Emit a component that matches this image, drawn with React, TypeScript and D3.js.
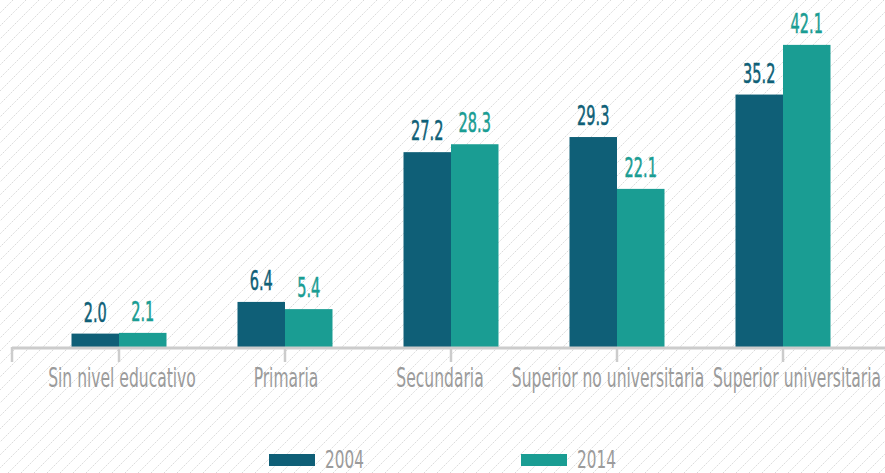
import React from "react";
import * as d3 from "d3";

const categories = ["Sin nivel educativo", "Primaria", "Secundaria", "Superior no universitaria", "Superior universitaria"];
const series2004 = [2.0, 6.4, 27.2, 29.3, 35.2];
const series2014 = [2.1, 5.4, 28.3, 22.1, 42.1];
const seriesNames = ["2004", "2014"];
const colors = ["#0f5f77", "#1a9d93"];

const W = 885, H = 473;
const FONT = "'DejaVu Sans Condensed', 'DejaVu Sans', sans-serif";
// small horizontal nudges of the category labels, as in the original layout
const labelDx = [3, 1, -11, -9, 14];

export default function App() {
  const x = d3.scaleBand<string>().domain(categories).range([36, 866]).paddingInner(0).paddingOuter(0);
  const y = d3.scaleLinear().domain([0, 45]).range([348, 24]);
  const barW = 47.5;
  const data = [series2004, series2014];
  const stripes: number[] = [];
  for (let s = -H; s < W + H; s += 13) stripes.push(s);
  return (
    <svg width={W} height={H} style={{ position: "absolute", left: 0, top: 0 }}>
      <defs>
        <clipPath id="clip"><rect x={0} y={0} width={W} height={H} /></clipPath>
      </defs>
      <rect width={W} height={H} fill="#fff" />
      <g clipPath="url(#clip)">
        {stripes.map((s, i) => (
          <line key={i} x1={s} y1={H} x2={s + H} y2={0} stroke="#d9d9d9" strokeWidth={1} strokeDasharray="1.5 1" />
        ))}
      </g>
      {categories.map((c, i) => {
        const cx = x(c)! + x.bandwidth() / 2;
        return (
          <g key={c}>
            {data.map((d, j) => {
              const bx = cx + (j === 0 ? -barW : 0);
              return (
                <g key={j}>
                  <rect x={bx} y={y(d[i])} width={barW} height={y(0) - y(d[i])} fill={colors[j]} />
                  <text transform={`translate(${bx + barW / 2},${y(d[i]) - 12}) scale(0.62,1)`} textAnchor="middle"
                    fontFamily={FONT} fontSize={26} fill={colors[j]} stroke={colors[j]} strokeWidth={0.5}>{d[i].toFixed(1)}</text>
                </g>
              );
            })}
          </g>
        );
      })}
      <line x1={12} x2={W} y1={348} y2={348} stroke="#cccccc" strokeWidth={3} />
      {[12, ...categories.map(c => x(c)! + x.bandwidth() / 2)].map((tx, i) => (
        <line key={i} x1={tx} x2={tx} y1={347} y2={362} stroke="#cccccc" strokeWidth={2.5} />
      ))}
      {categories.map((c, i) => (
        <text key={c} transform={`translate(${x(c)! + x.bandwidth() / 2 + labelDx[i]},387) scale(0.665,1)`} textAnchor="middle"
          fontFamily={FONT} fontSize={26} fill="#9b9b9b">{c}</text>
      ))}
      {seriesNames.map((n, j) => {
        const lx = j === 0 ? 269 : 521;
        return (
          <g key={n}>
            <rect x={lx} y={454} width={46} height={12} fill={colors[j]} />
            <text transform={`translate(${lx + 56},468) scale(0.68,1)`} fontFamily={FONT} fontSize={25} fill="#9b9b9b">{n}</text>
          </g>
        );
      })}
    </svg>
  );
}
